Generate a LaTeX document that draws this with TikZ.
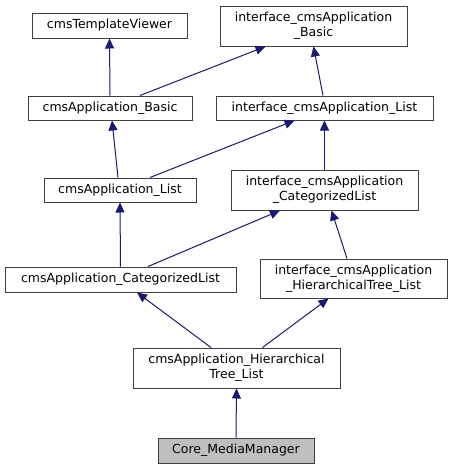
\documentclass[tikz,border=0pt]{standalone}
\usepackage{fontspec}
\setmainfont{DejaVu Sans}
\usetikzlibrary{arrows.meta}
\definecolor{edgecol}{RGB}{25,25,112}
\definecolor{boxline}{RGB}{64,64,64}
\definecolor{corefill}{RGB}{191,191,191}
\tikzset{
  cls/.style={draw=boxline, line width=1pt, fill=white, inner sep=0pt, align=center,
    font=\fontsize{12.5}{15}\selectfont},
  inh/.style={draw=edgecol, line width=1pt, -{Triangle[length=10pt,width=9pt,fill=edgecol]}},
}
\begin{document}
\begin{tikzpicture}[x=1pt,y=-1pt]
\useasboundingbox[fill=white] (0,0) rectangle (453,469);
\node[cls, minimum width=155pt, minimum height=25pt] (tv) at (109.5,25.5) {cmsTemplateViewer};
\node[cls, minimum width=187pt, minimum height=40pt] (ib) at (313.5,26) {interface\_cmsApplication\\\_Basic};
\node[cls, minimum width=164pt, minimum height=24pt] (cb) at (110,108) {cmsApplication\_Basic};
\node[cls, minimum width=217pt, minimum height=24pt] (il) at (324.5,108) {interface\_cmsApplication\_List};
\node[cls, minimum width=152pt, minimum height=24pt] (cl) at (120,190) {cmsApplication\_List};
\node[cls, minimum width=187pt, minimum height=40pt] (ic) at (324.5,190) {interface\_cmsApplication\\\_CategorizedList};
\node[cls, minimum width=231pt, minimum height=25pt] (cc) at (120.5,279.5) {cmsApplication\_CategorizedList};
\node[cls, minimum width=187pt, minimum height=39pt] (ih) at (353.5,278.5) {interface\_cmsApplication\\\_HierarchicalTree\_List};
\node[cls, minimum width=207pt, minimum height=40pt] (ch) at (236.5,368) {cmsApplication\_Hierarchical\\Tree\_List};
\node[cls, fill=corefill, minimum width=156pt, minimum height=25pt] (core) at (236,450.5) {Core\_MediaManager};

\draw[inh] (cb.north) -- (tv.south);
\draw[inh] ([xshift=30pt]cb.north) -- ([xshift=-48pt]ib.south);
\draw[inh] ([xshift=-1.5pt]il.north) -- (ib.south);
\draw[inh] ([xshift=-2pt]cl.north) -- ([xshift=2pt]cb.south);
\draw[inh] ([xshift=30pt]cl.north) -- ([xshift=-30pt]il.south);
\draw[inh] (ic.north) -- (il.south);
\draw[inh] (cc.north) -- (cl.south);
\draw[inh] ([xshift=27.5pt]cc.north) -- ([xshift=-44.5pt]ic.south);
\draw[inh] ([xshift=-6.5pt]ih.north) -- ([xshift=7pt]ic.south);
\draw[inh] ([xshift=-25.5pt]ch.north) -- ([xshift=16.5pt]cc.south);
\draw[inh] ([xshift=26pt]ch.north) -- ([xshift=-25pt]ih.south);
\draw[inh] (core.north) -- (ch.south);
\end{tikzpicture}
\end{document}
